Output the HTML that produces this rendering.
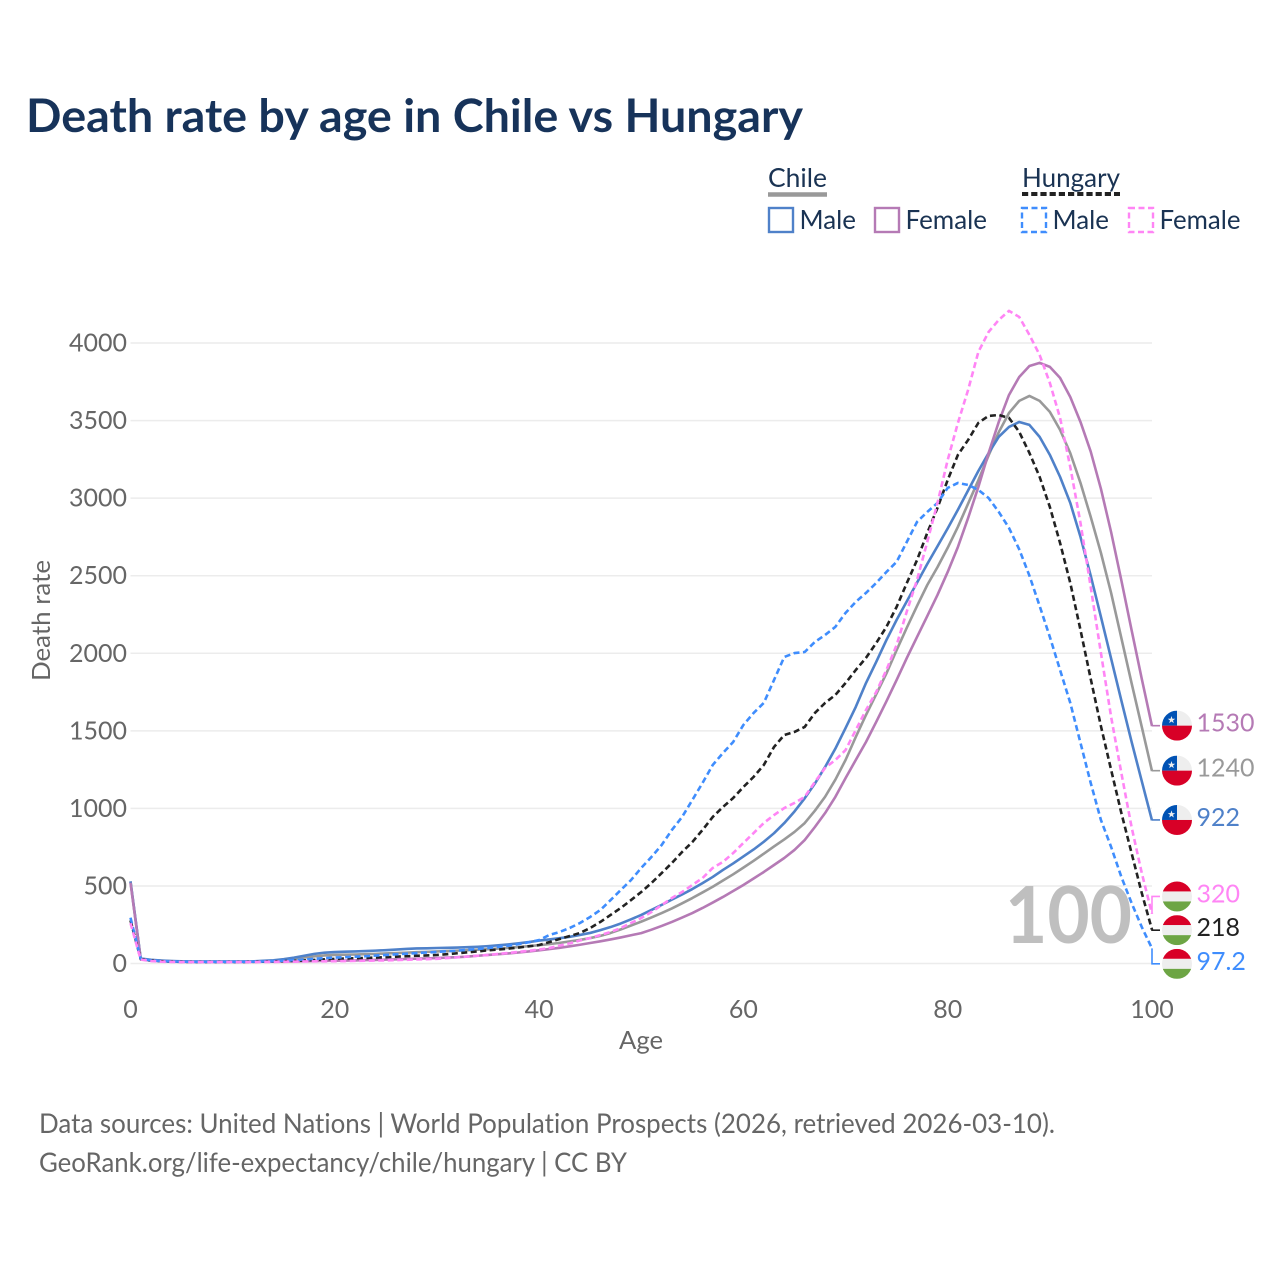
<!DOCTYPE html>
<html lang="en">
<head>
<meta charset="utf-8">
<title>Death rate by age in Chile vs Hungary</title>
<style>
html,body{margin:0;padding:0;background:#fff;}
svg{display:block;}
text{font-family:"Lato","Carlito","Liberation Sans",sans-serif;font-variant-ligatures:none;}
</style>
</head>
<body>
<svg id="chart" xmlns="http://www.w3.org/2000/svg" width="1280" height="1280" viewBox="0 0 1280 1280">
  <defs>
    <clipPath id="flag-clip"><circle cx="0" cy="0" r="15"/></clipPath>
    <g id="flag-chile" clip-path="url(#flag-clip)">
      <rect x="-15" y="-15" width="30" height="15" fill="#eeeeee"/>
      <rect x="-15" y="-15" width="15" height="15" fill="#0052b4"/>
      <rect x="-15" y="0" width="30" height="15" fill="#d80027"/>
      <polygon points="-5.5,-9.6 -4.6,-6.9 -1.8,-6.9 -4,-5.2 -3.2,-2.5 -5.5,-4.1 -7.8,-2.5 -7,-5.2 -9.2,-6.9 -6.4,-6.9" fill="#eeeeee"/>
    </g>
    <g id="flag-hungary" clip-path="url(#flag-clip)">
      <rect x="-15" y="-15" width="30" height="10" fill="#d80027"/>
      <rect x="-15" y="-5" width="30" height="10" fill="#eeeeee"/>
      <rect x="-15" y="5" width="30" height="10" fill="#6da544"/>
    </g>
  </defs>
  <rect x="0" y="0" width="1280" height="1280" fill="#ffffff"/>
  <text x="26" y="132" font-size="46" font-weight="700" fill="#17335a" textLength="777" lengthAdjust="spacingAndGlyphs">Death rate by age in Chile vs Hungary</text>

  <g font-size="26" fill="#1a3353">
    <text x="768" y="187" textLength="59" lengthAdjust="spacingAndGlyphs">Chile</text>
    <line x1="768" x2="827" y1="194.5" y2="194.5" stroke="#999999" stroke-width="4.5"/>
    <text x="1022" y="187" textLength="98" lengthAdjust="spacingAndGlyphs">Hungary</text>
    <line x1="1022" x2="1120" y1="194" y2="194" stroke="#222222" stroke-width="4" stroke-dasharray="6.2 3"/>
    <rect x="769" y="208" width="24" height="24" fill="none" stroke="#4f81c9" stroke-width="2.4"/>
    <text x="799.5" y="229" textLength="56.5" lengthAdjust="spacingAndGlyphs">Male</text>
    <rect x="875" y="208" width="24" height="24" fill="none" stroke="#b57ab5" stroke-width="2.4"/>
    <text x="905.5" y="229" textLength="81.5" lengthAdjust="spacingAndGlyphs">Female</text>
    <rect x="1022" y="208" width="24" height="24" fill="none" stroke="#3f8dfd" stroke-width="2.4" stroke-dasharray="6 3.5"/>
    <text x="1052.5" y="229" textLength="56.5" lengthAdjust="spacingAndGlyphs">Male</text>
    <rect x="1129" y="208" width="24" height="24" fill="none" stroke="#ff85f5" stroke-width="2.4" stroke-dasharray="6 3.5"/>
    <text x="1159.5" y="229" textLength="81" lengthAdjust="spacingAndGlyphs">Female</text>
  </g>

  <g id="grid"></g>
  <g id="yticks"></g>
  <g id="xticks"></g>
  <text x="1005" y="943" font-size="79" font-weight="700" fill="#bfbfbf" textLength="127" lengthAdjust="spacingAndGlyphs">100</text>
  <g id="lines"></g>
  <g id="ends"></g>

  <text x="641" y="1049" text-anchor="middle" font-size="25" fill="#666666" textLength="44" lengthAdjust="spacingAndGlyphs">Age</text>
  <text transform="translate(50,620.5) rotate(-90)" text-anchor="middle" font-size="25" fill="#666666" textLength="121" lengthAdjust="spacingAndGlyphs">Death rate</text>
  <text x="39" y="1133" font-size="27" fill="#666666" textLength="1016" lengthAdjust="spacingAndGlyphs">Data sources: United Nations | World Population Prospects (2026, retrieved 2026-03-10).</text>
  <text x="39" y="1172" font-size="27" fill="#666666" textLength="588" lengthAdjust="spacingAndGlyphs">GeoRank.org/life-expectancy/chile/hungary | CC BY</text>
</svg>
<script>
var xTickValues = [0, 20, 40, 60, 80, 100];
var yTickValues = [0, 500, 1000, 1500, 2000, 2500, 3000, 3500, 4000];

var chileTotal = [
528,30,22,18,15,13,12,12,12,12,
12,12,13,15,18,23,30,38,46,52,
55,57,58,60,62,65,67,70,73,75,
78,80,83,86,89,92,96,101,106,112,
118,125,133,142,152,164,178,197,220,245,
270,297,325,355,388,422,458,495,535,575,
618,662,708,755,800,848,905,985,1075,1185,
1312,1460,1602,1735,1870,2020,2165,2305,2440,2555,
2680,2815,2965,3115,3275,3425,3549,3627,3659,3627,
3556,3440,3290,3098,2879,2647,2388,2098,1808,1525,
1240];
var chileMale = [
530,32,24,19,16,14,13,13,13,13,
13,13,14,17,21,28,38,50,62,70,
74,76,78,80,83,86,90,94,97,98,
100,101,103,105,108,112,117,123,130,138,
148,155,163,172,184,197,215,235,258,285,
313,345,378,412,445,480,518,558,603,645,
690,735,785,840,905,980,1065,1160,1267,1385,
1518,1654,1808,1944,2085,2215,2335,2455,2575,2690,
2805,2925,3050,3175,3290,3395,3459,3491,3472,3395,
3279,3137,2969,2750,2500,2235,1965,1695,1430,1175,
922];
var chileFemale = [
520,27,19,15,12,11,10,10,10,10,
10,10,11,12,12,13,14,15,16,17,
18,19,20,22,23,25,27,29,31,33,
35,38,41,45,50,55,60,65,71,78,
85,93,101,111,121,132,143,155,168,182,
196,218,242,268,296,325,358,393,429,467,
506,548,590,635,680,732,796,880,970,1074,
1195,1312,1428,1557,1690,1828,1970,2105,2240,2376,
2524,2685,2872,3072,3290,3491,3665,3781,3852,3872,
3846,3775,3652,3491,3300,3060,2780,2470,2150,1835,
1530];
var hungaryTotal = [
278,28,19,15,12,11,10,10,10,10,
10,10,11,12,13,15,17,20,23,27,
30,32,34,36,38,41,44,47,50,52,
55,60,66,72,78,85,90,96,103,111,
119,138,158,177,197,229,268,313,358,409,
461,519,583,648,719,783,861,945,1009,1067,
1138,1203,1280,1396,1473,1493,1525,1615,1680,1731,
1808,1892,1970,2066,2170,2299,2453,2601,2776,2937,
3117,3279,3375,3485,3530,3536,3517,3427,3291,3137,
2943,2711,2453,2150,1835,1530,1248,970,712,454,
218];
var hungaryMale = [
295,30,20,16,13,12,11,11,11,11,
11,11,12,13,15,18,22,26,30,35,
38,41,44,47,51,55,59,63,67,71,
75,79,83,88,94,100,107,115,125,137,
151,184,203,229,261,300,345,409,474,538,
616,687,764,861,945,1054,1164,1280,1357,1428,
1538,1615,1680,1828,1976,2001,2008,2073,2118,2170,
2260,2331,2389,2453,2524,2589,2718,2847,2911,2969,
3066,3098,3085,3053,3001,2911,2808,2670,2500,2305,
2105,1892,1680,1422,1164,925,751,558,390,235,
97.2];
var hungaryFemale = [
260,25,16,12,10,9,9,9,9,9,
9,9,9,10,10,11,12,13,14,14,
15,16,17,18,19,20,22,24,26,28,
30,35,40,45,50,55,62,68,75,82,
90,100,115,130,148,164,184,203,229,261,
293,332,377,422,461,506,551,616,655,712,
777,841,906,957,1002,1035,1074,1170,1261,1312,
1376,1505,1634,1750,1892,2053,2270,2473,2718,2969,
3246,3485,3698,3942,4071,4149,4207,4168,4052,3923,
3743,3517,3201,2840,2427,2002,1589,1228,880,583,
320];

var chart = {left:130.5, right:1152, zero:963.5, top:343, stubEnd:1160, flagX:1177, labelX:1196.5, minGap:33.7};
var SVG_NS = 'http://www.w3.org/2000/svg';
function xScale(age){ return chart.left + (chart.right - chart.left) * age / 100; }
function yScale(v){ return chart.zero - (chart.zero - chart.top) * v / 4000; }

var gridG = document.getElementById('grid');
var yG = document.getElementById('yticks');
var xG = document.getElementById('xticks');
var linesG = document.getElementById('lines');
var endsG = document.getElementById('ends');

yTickValues.forEach(function(v){
  var line = document.createElementNS(SVG_NS, 'line');
  
  
  line.setAttribute('x1', chart.left);
  line.setAttribute('x2', chart.right);
  line.setAttribute('y1', yScale(v));
  line.setAttribute('y2', yScale(v));
  line.setAttribute('stroke', '#ececec');
  line.setAttribute('stroke-width', '1.5');
  gridG.appendChild(line);
  var t = document.createElementNS(SVG_NS, 'text');
  
  
  t.setAttribute('x', 127);
  t.setAttribute('y', yScale(v) + 8.5);
  t.setAttribute('text-anchor', 'end');
  t.setAttribute('font-size', '25');
  t.setAttribute('fill', '#666666');
  t.textContent = String(v);
  yG.appendChild(t);
});

xTickValues.forEach(function(a){
  var t = document.createElementNS(SVG_NS, 'text');
  
  
  t.setAttribute('x', xScale(a));
  t.setAttribute('y', 1018);
  t.setAttribute('text-anchor', 'middle');
  t.setAttribute('font-size', '25');
  t.setAttribute('fill', '#666666');
  t.textContent = String(a);
  xG.appendChild(t);
});

var seriesList = [
  {key:'chile-total', values:chileTotal, color:'#999999', dash:'', flag:'#flag-chile'},
  {key:'chile-male', values:chileMale, color:'#4f81c9', dash:'', flag:'#flag-chile'},
  {key:'chile-female', values:chileFemale, color:'#b57ab5', dash:'', flag:'#flag-chile'},
  {key:'hungary-total', values:hungaryTotal, color:'#222222', dash:'6 3.5', flag:'#flag-hungary'},
  {key:'hungary-male', values:hungaryMale, color:'#3f8dfd', dash:'6 3.5', flag:'#flag-hungary'},
  {key:'hungary-female', values:hungaryFemale, color:'#ff85f5', dash:'6 3.5', flag:'#flag-hungary'}
];

// Spread end labels so that they never overlap, keeping each cluster centred on its data.
function layoutLabels(list){
  var items = list.map(function(s){ return {s:s, y:yScale(s.values[s.values.length - 1]) - 0.5}; });
  items.sort(function(a, b){ return a.y - b.y; });
  var clusters = items.map(function(it){ return {items:[it], mean:it.y}; });
  var merged = true;
  function top(c){ return c.mean - (c.items.length - 1) * chart.minGap / 2; }
  function bottom(c){ return c.mean + (c.items.length - 1) * chart.minGap / 2; }
  while (merged) {
    merged = false;
    for (var i = 0; i < clusters.length - 1; i++) {
      if (bottom(clusters[i]) + chart.minGap > top(clusters[i + 1])) {
        var all = clusters[i].items.concat(clusters[i + 1].items);
        var sum = all.reduce(function(acc, it){ return acc + it.y; }, 0);
        clusters.splice(i, 2, {items:all, mean:sum / all.length});
        merged = true;
        break;
      }
    }
  }
  clusters.forEach(function(c){
    c.items.forEach(function(it, idx){ it.s.labelY = top(c) + idx * chart.minGap; });
  });
}
layoutLabels(seriesList);

seriesList.forEach(function(s){
  var d = s.values.map(function(v, i){
    return (i === 0 ? 'M' : 'L') + xScale(i).toFixed(2) + ' ' + yScale(v).toFixed(2);
  }).join(' ');
  var path = document.createElementNS(SVG_NS, 'path');
  
  
  path.setAttribute('d', d);
  path.setAttribute('fill', 'none');
  path.setAttribute('stroke', s.color);
  path.setAttribute('stroke-width', '2.6');
  path.setAttribute('stroke-linejoin', 'round');
  if (s.dash) path.setAttribute('stroke-dasharray', s.dash);
  linesG.appendChild(path);

  var lastV = s.values[s.values.length - 1];
  var stub = document.createElementNS(SVG_NS, 'path');
  
  
  stub.setAttribute('d', 'M' + chart.right + ' ' + yScale(lastV) + ' L' + chart.right + ' ' + s.labelY + ' L' + chart.stubEnd + ' ' + s.labelY);
  stub.setAttribute('fill', 'none');
  stub.setAttribute('stroke', s.color);
  stub.setAttribute('stroke-width', '1.6');
  endsG.appendChild(stub);

  var flag = document.createElementNS(SVG_NS, 'use');
  
  
  flag.setAttribute('href', s.flag);
  flag.setAttribute('transform', 'translate(' + chart.flagX + ',' + s.labelY + ')');
  endsG.appendChild(flag);

  var label = document.createElementNS(SVG_NS, 'text');
  
  
  label.setAttribute('x', chart.labelX);
  label.setAttribute('y', s.labelY + 6);
  label.setAttribute('font-size', '25');
  label.setAttribute('fill', s.color);
  label.textContent = String(lastV);
  endsG.appendChild(label);
});
</script>
</body>
</html>
